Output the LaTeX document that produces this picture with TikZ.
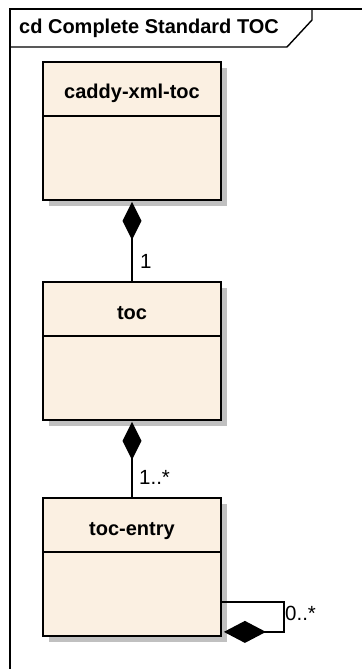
\documentclass[tikz,border=0pt]{standalone}
\usepackage{fontspec}
\setmainfont{Liberation Sans}
\usetikzlibrary{arrows.meta,shadows,calc}
\definecolor{classfill}{RGB}{251,240,226}
\definecolor{shadowgray}{RGB}{192,192,192}
\tikzset{
  classbox/.style={draw=black, line width=1.8pt, fill=classfill, rectangle,
    minimum width=178pt, minimum height=138pt, inner sep=0pt,
    drop shadow={shadow xshift=6pt, shadow yshift=-6pt, fill=shadowgray, opacity=1}},
  classname/.style={font=\fontsize{20pt}{23pt}\selectfont\bfseries, anchor=base, inner sep=0pt},
  mult/.style={font=\fontsize{20.5pt}{23pt}\selectfont, anchor=base west, inner sep=0pt},
  frameline/.style={line width=1.4pt, draw=black},
  comp/.style={line width=1.5pt},
}
\begin{document}
\begin{tikzpicture}[x=1pt,y=-1pt]
\useasboundingbox (0,0) rectangle (362,669);
\fill[white] (0,0) rectangle (362,669);
% frame
\draw[frameline] (10,669) -- (10,9) -- (362,9);
\draw[frameline] (10,47) -- (287,47) -- (312,20) -- (312,9);
\node[anchor=base west, inner sep=0pt, font=\fontsize{20pt}{23pt}\selectfont\bfseries] (title) at (19,34) {cd Complete Standard TOC};
% classes
\node[classbox] (c1) at (132,131) {};
\node[classbox] (c2) at (132,351) {};
\node[classbox] (c3) at (132,567) {};
\draw[line width=1.8pt] ([yshift=-55pt]c1.north west) -- ([yshift=-55pt]c1.north east);
\draw[line width=1.8pt] ([yshift=-55pt]c2.north west) -- ([yshift=-55pt]c2.north east);
\draw[line width=1.8pt] ([yshift=-55pt]c3.north west) -- ([yshift=-55pt]c3.north east);
\node[classname] (n1) at ($(c1.north)+(0,37)$) {caddy-xml-toc};
\node[classname] (n2) at ($(c2.north)+(0,38)$) {toc};
\node[classname] (n3) at ($(c3.north)+(0,38)$) {toc-entry};
% compositions
\draw[comp, {Diamond[length=38pt,width=19pt]}-] ([yshift=-1pt]c1.south) -- (c2.north);
\draw[comp, {Diamond[length=38pt,width=19pt]}-] ([yshift=-1pt]c2.south) -- (c3.north);
\coordinate (lp1) at ($(c3.south east)+(2,-5)$);
\coordinate (lp2) at ($(c3.south east)+(62,-5)$);
\coordinate (lp3) at ($(c3.south east)+(62,-35)$);
\coordinate (lp4) at ($(c3.south east)+(0,-35)$);
\draw[comp, {Diamond[length=42pt,width=22pt]}-] (lp1) -- (lp2) -- (lp3) -- (lp4);
% multiplicities
\node[mult] (m1) at (140,268) {1};
\node[mult] (m2) at (139,484) {1..*};
\node[mult] (m3) at (285,620) {0..*};
\end{tikzpicture}
\end{document}
